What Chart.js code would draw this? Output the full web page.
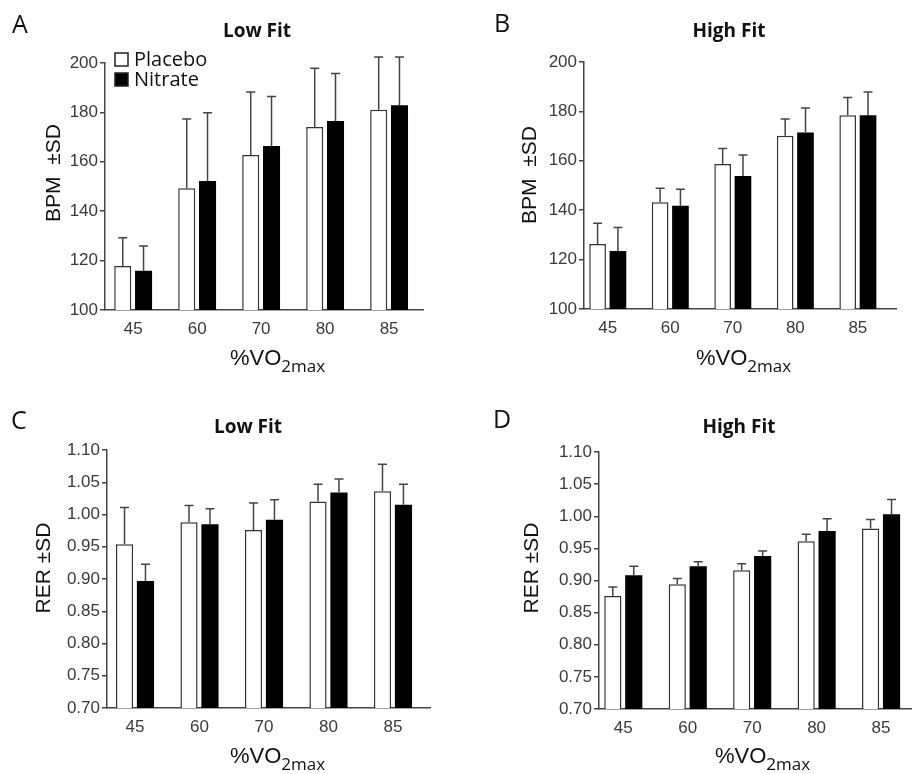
<!DOCTYPE html>
<html>
<head>
<meta charset="utf-8">
<script src="https://cdn.jsdelivr.net/npm/chart.js"></script>
<style>
  body { margin: 0; background: #fff; width: 912px; height: 774px; overflow: hidden; position: relative; }
  canvas { position: absolute; }
</style>
</head>
<body>
<canvas id="chartA" width="456" height="390" style="left:0;top:0"></canvas>
<canvas id="chartB" width="456" height="390" style="left:456px;top:0"></canvas>
<canvas id="chartC" width="456" height="384" style="left:0;top:390px"></canvas>
<canvas id="chartD" width="456" height="384" style="left:456px;top:390px"></canvas>
<script>
// %VO2max stages
const categories = ["45", "60", "70", "80", "85"];
const seriesNames = ["Placebo", "Nitrate"];

// A: heart rate, low fit
const hrLowPlacebo = [117.8, 149.3, 162.8, 174.1, 181.1];
const hrLowPlaceboSD = [11.5, 28.0, 25.5, 23.8, 21.3];
const hrLowNitrate = [115.9, 152.2, 166.4, 176.5, 182.9];
const hrLowNitrateSD = [10.0, 27.7, 20.0, 19.2, 19.5];

// B: heart rate, high fit
const hrHighPlacebo = [126.3, 143.2, 158.7, 170.1, 178.4];
const hrHighPlaceboSD = [8.4, 5.7, 6.3, 6.8, 7.2];
const hrHighNitrate = [123.5, 141.8, 153.8, 171.5, 178.4];
const hrHighNitrateSD = [9.5, 6.7, 8.5, 9.9, 9.5];

// C: RER, low fit
const rerLowPlacebo = [0.954, 0.988, 0.976, 1.020, 1.036];
const rerLowPlaceboSD = [0.057, 0.026, 0.042, 0.027, 0.042];
const rerLowNitrate = [0.897, 0.985, 0.992, 1.034, 1.015];
const rerLowNitrateSD = [0.026, 0.024, 0.031, 0.021, 0.032];

// D: RER, high fit
const rerHighPlacebo = [0.876, 0.894, 0.916, 0.961, 0.981];
const rerHighPlaceboSD = [0.014, 0.009, 0.010, 0.011, 0.014];
const rerHighNitrate = [0.908, 0.922, 0.938, 0.977, 1.003];
const rerHighNitrateSD = [0.014, 0.007, 0.008, 0.019, 0.023];

// axis ranges
const hrTicks = { min: 100, max: 200, step: 20 };
const rerTicks = { min: 0.70, max: 1.10, step: 0.05 };

const AXIS = "#444";
const TEXT = "#111";
const TICK_TEXT = "#3a3a3a";

// Error bars (+SD only)
const errorBars = {
  id: "errorBars",
  afterDatasetsDraw(chart) {
    const ctx = chart.ctx;
    const y = chart.scales.y;
    ctx.save();
    ctx.strokeStyle = AXIS;
    ctx.lineWidth = 1.5;
    chart.data.datasets.forEach((ds, di) => {
      chart.getDatasetMeta(di).data.forEach((bar, i) => {
        const top = y.getPixelForValue(ds.data[i].y + ds.sd[i]);
        ctx.beginPath();
        ctx.moveTo(bar.x, bar.y);
        ctx.lineTo(bar.x, top);
        ctx.moveTo(bar.x - 4.5, top);
        ctx.lineTo(bar.x + 4.5, top);
        ctx.stroke();
      });
    });
    ctx.restore();
  }
};

// Panel letter, title, axis titles and legend
const panelText = {
  id: "panelText",
  afterDraw(chart, args, o) {
    const ctx = chart.ctx;
    ctx.save();
    ctx.fillStyle = TEXT;
    ctx.textBaseline = "alphabetic";

    ctx.textAlign = "left";
    ctx.font = '25px "Open Sans"';
    ctx.fillText(o.letter, o.letterPos[0], o.letterPos[1]);

    ctx.textAlign = "center";
    ctx.font = 'bold 19px "Open Sans"';
    ctx.fillText(o.title, o.titlePos[0], o.titlePos[1]);

    ctx.save();
    ctx.translate(o.yTitlePos[0], o.yTitlePos[1]);
    ctx.rotate(-Math.PI / 2);
    ctx.font = '21px "Liberation Sans"';
    ctx.fillText(o.yTitle, 0, 0);
    ctx.restore();

    ctx.textAlign = "left";
    ctx.font = '22px "Liberation Sans"';
    ctx.fillText("%VO", o.xTitlePos[0], o.xTitlePos[1]);
    const w = ctx.measureText("%VO").width;
    ctx.font = '17px "Open Sans"';
    ctx.fillText("2max", o.xTitlePos[0] + w, o.xTitlePos[1] + 7);

    if (o.legend) {
      const [lx, ly] = o.legend;
      ctx.font = '20px "Open Sans"';
      chart.data.datasets.forEach((ds, i) => {
        const by = ly + i * 20;
        ctx.fillStyle = ds.backgroundColor;
        ctx.fillRect(lx, by, 13, 13);
        ctx.strokeStyle = "#222";
        ctx.lineWidth = 1.5;
        ctx.strokeRect(lx, by, 13, 13);
        ctx.fillStyle = TEXT;
        ctx.fillText(ds.label, lx + 19, by + 13);
      });
    }
    ctx.restore();
  }
};

function makePanel(id, placebo, placeboSD, nitrate, nitrateSD, yr, view, text) {
  const toXY = (arr) => arr.map((v, i) => ({ x: i, y: v }));
  const decimals = yr.step < 1 ? 2 : 0;
  new Chart(document.getElementById(id), {
    type: "bar",
    data: {
      datasets: [
        {
          label: seriesNames[0],
          data: toXY(placebo),
          sd: placeboSD,
          backgroundColor: "#ffffff",
          borderColor: "#333",
          borderWidth: 1.5,
        },
        {
          label: seriesNames[1],
          data: toXY(nitrate),
          sd: nitrateSD,
          backgroundColor: "#000000",
          borderColor: "#000",
          borderWidth: 0,
        },
      ],
    },
    options: {
      responsive: false,
      animation: false,
      categoryPercentage: 0.65,
      barPercentage: 0.82,
      layout: { padding: view.padding },
      plugins: {
        legend: { display: false },
        tooltip: { enabled: false },
        panelText: text,
      },
      scales: {
        x: {
          type: "linear",
          offset: false,
          min: view.xMin,
          max: view.xMax,
          afterFit: (s) => { s.height = 40; },
          grid: { display: false, drawTicks: false },
          border: { display: true, color: AXIS, width: 1.5 },
          ticks: {
            stepSize: 1,
            includeBounds: false,
            padding: 9,
            color: TICK_TEXT,
            font: { family: "Liberation Sans", size: 17 },
            callback: (v) => categories[v] ?? "",
          },
        },
        y: {
          min: yr.min,
          max: yr.max,
          afterFit: (s) => { s.width = 60; },
          grid: { drawOnChartArea: false, tickLength: 5, color: AXIS, lineWidth: 1.5 },
          border: { display: true, color: AXIS, width: 1.5 },
          ticks: {
            stepSize: yr.step,
            padding: 2,
            color: TICK_TEXT,
            font: { family: "Liberation Sans", size: 17 },
            callback: (v) => v.toFixed(decimals),
          },
        },
      },
    },
    plugins: [errorBars, panelText],
  });
}

makePanel("chartA", hrLowPlacebo, hrLowPlaceboSD, hrLowNitrate, hrLowNitrateSD, hrTicks,
  { padding: { left: 45, right: 33, top: 63, bottom: 40 }, xMin: -0.44, xMax: 4.53 },
  { letter: "A", letterPos: [12, 33], title: "Low Fit", titlePos: [257, 37],
    yTitle: "BPM  \u00b1SD", yTitlePos: [60, 173], xTitlePos: [230, 365], legend: [115, 53] });

makePanel("chartB", hrHighPlacebo, hrHighPlaceboSD, hrHighNitrate, hrHighNitrateSD, hrTicks,
  { padding: { left: 68, right: 16, top: 62, bottom: 41 }, xMin: -0.38, xMax: 4.61 },
  { letter: "B", letterPos: [38, 32], title: "High Fit", titlePos: [273, 37],
    yTitle: "BPM  \u00b1SD", yTitlePos: [80, 175], xTitlePos: [240, 365] });

makePanel("chartC", rerLowPlacebo, rerLowPlaceboSD, rerLowNitrate, rerLowNitrateSD, rerTicks,
  { padding: { left: 47, right: 26, top: 60, bottom: 26 }, xMin: -0.434, xMax: 4.574 },
  { letter: "C", letterPos: [11, 39], title: "Low Fit", titlePos: [248, 43],
    yTitle: "RER \u00b1SD", yTitlePos: [50, 178], xTitlePos: [230, 373] });

makePanel("chartD", rerHighPlacebo, rerHighPlaceboSD, rerHighNitrate, rerHighNitrateSD, rerTicks,
  { padding: { left: 83, right: 0, top: 62, bottom: 25 }, xMin: -0.377, xMax: 4.48 },
  { letter: "D", letterPos: [37, 38], title: "High Fit", titlePos: [283, 43],
    yTitle: "RER \u00b1SD", yTitlePos: [82, 178], xTitlePos: [259, 373] });
</script>
</body>
</html>
